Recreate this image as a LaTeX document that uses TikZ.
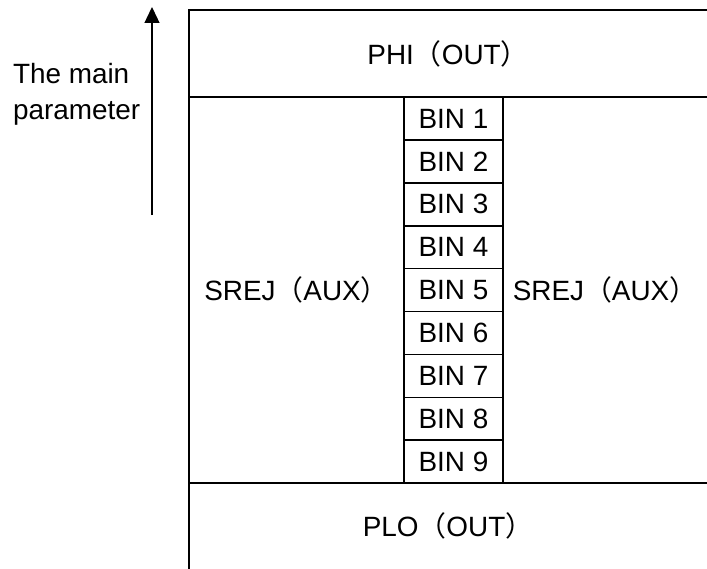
\documentclass[tikz,border=0pt]{standalone}
\usepackage{fontspec}
\setmainfont{Liberation Sans}
\newfontfamily\cjk{Noto Sans CJK SC}
\usetikzlibrary{positioning,arrows.meta}
\newcommand\lpar{{\cjk （}}
\newcommand\rpar{{\cjk ）}}

\begin{document}
\begin{tikzpicture}[x=1bp, y=-1bp,
      every node/.style={font=\fontsize{28}{37}\selectfont, inner sep=0pt, outer sep=0pt},
      frame/.style={line width=2.2bp},
      bin/.style={draw, line width=1.6bp, minimum width=99bp, minimum height=42.9bp}]
  \useasboundingbox (0,0) rectangle (707,569);
  % outer frame, open to the right and bottom
  \draw[frame] (707,10) -- (189,10) -- (189,569);
  \draw[frame] (189,97) -- (707,97);
  \draw[frame] (189,483) -- (707,483);
  % bin column
  \node[bin, anchor=north] (bin1) at (453.5,97) {BIN 1};
  \foreach \i [count=\j from 1] in {2,...,9}
    \node[bin, below=0pt of bin\j] (bin\i) {BIN \i};
  % cells
  \node (phi) at (448,53.5) {PHI\lpar OUT\rpar};
  \node (srejl) at (296.5,290) {SREJ\lpar AUX\rpar};
  \node (srejr) at (605,290) {SREJ\lpar AUX\rpar};
  \node (plo) at (448,526) {PLO\lpar OUT\rpar};
  % axis
  \coordinate (abot) at (152,215);
  \coordinate (atop) at (152,7);
  \draw[line width=1.3bp, -{Triangle[length=16bp, width=15bp]}] (abot) -- (atop);
  \node[align=left, anchor=base west] (axis) at (13,120) {The main\\parameter};
\end{tikzpicture}
\end{document}
